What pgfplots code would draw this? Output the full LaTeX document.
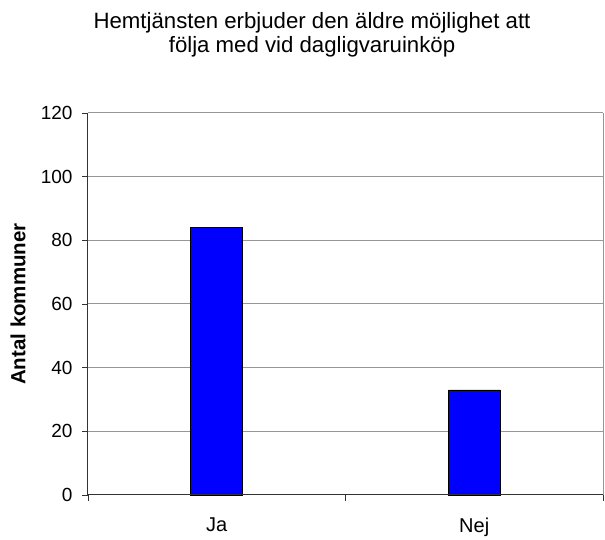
\documentclass[border=0pt]{standalone}
\usepackage{pgfplots}
\pgfplotsset{compat=1.18}
\usepackage{fontspec}
\setmainfont{Liberation Sans}
\definecolor{gridgray}{RGB}{150,150,150}
\definecolor{barblue}{RGB}{0,0,255}
\begin{document}
\begin{tikzpicture}
\begin{axis}[
  scale only axis,
  width=515pt, height=382pt,
  xmin=-0.5, xmax=1.5,
  ymin=0, ymax=120,
  ytick={0,20,...,120},
  xtick={0,1},
  xticklabels={Ja,Nej},
  minor xtick={-0.5,0.5,1.5},
  xtick pos=bottom,
  ytick pos=left,
  axis line style={draw=none},
  ymajorgrids,
  grid style={gridgray, line width=1pt},
  major tick length=6pt,
  minor tick length=6pt,
  tick align=outside,
  xtick style={draw=none},
  minor x tick style={draw=black!80, line width=0.8pt},
  ytick style={draw=black!80, line width=0.8pt},
  xticklabel style={font=\fontsize{20}{24}\selectfont, yshift=-13pt},
  yticklabel style={font=\fontsize{19}{22}\selectfont, xshift=-6pt},
  /pgf/number format/assume math mode=true,
  clip=false,
]
\addplot[ybar, bar width=52pt, fill=barblue, draw=black, line width=0.8pt] coordinates {(0,84) (1,33)};
\draw[gridgray, line width=1pt] (rel axis cs:1,0) -- (rel axis cs:1,1);
\draw[black!80, line width=1pt] (rel axis cs:0,1) -- (rel axis cs:0,0) -- (rel axis cs:1,0);
\node[font=\fontsize{22.2}{24.5}\selectfont, align=center] at ([yshift=78pt]rel axis cs:0.435,1) {Hemtjänsten erbjuder den äldre möjlighet att\\följa med vid dagligvaruinköp};
\node[font=\bfseries\fontsize{20.5}{24}\selectfont, rotate=90] at ([xshift=-70pt]rel axis cs:0,0.5) {Antal kommuner};
\path (rel axis cs:0,0) ++(-88pt,-42pt) rectangle ++(605pt,537pt);
\end{axis}
\end{tikzpicture}
\end{document}
